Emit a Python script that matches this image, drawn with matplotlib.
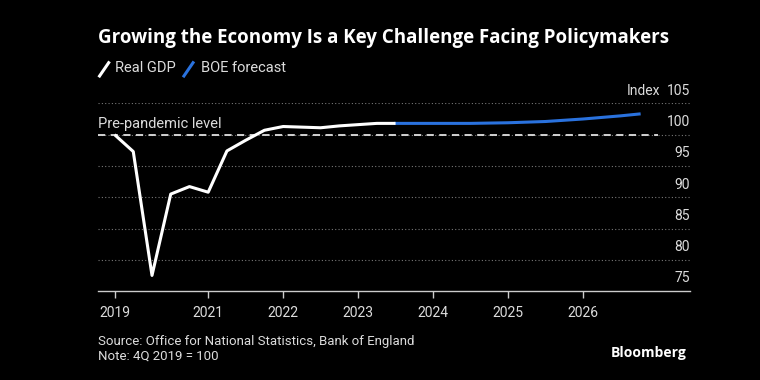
import matplotlib
matplotlib.use("Agg")
import matplotlib.pyplot as plt
from matplotlib.lines import Line2D

# quarterly data, x as fractional year (start of quarter)
gdp_x = [2019.75, 2020.0, 2020.25, 2020.5, 2020.75, 2021.0, 2021.25, 2021.5,
         2021.75, 2022.0, 2022.25, 2022.5, 2022.75, 2023.0, 2023.25, 2023.5]
gdp_y = [100.0, 97.3, 77.5, 90.5, 91.7, 90.8, 97.4, 99.1,
         100.7, 101.3, 101.2, 101.1, 101.4, 101.6, 101.8, 101.8]

boe_x = [2023.5, 2023.75, 2024.0, 2024.25, 2024.5, 2024.75, 2025.0,
         2025.25, 2025.5, 2025.75, 2026.0, 2026.25, 2026.5, 2026.75]
boe_y = [101.8, 101.8, 101.8, 101.8, 101.8, 101.85, 101.9,
         102.0, 102.1, 102.3, 102.5, 102.75, 103.0, 103.3]

xticks = [2019.75, 2021, 2022, 2023, 2024, 2025, 2026]
xtick_labels = ["2019", "2021", "2022", "2023", "2024", "2025", "2026"]
yticks = [75, 80, 85, 90, 95, 100, 105]

bg = "black"
txt = "#dcdcdc"
blue = "#2a72de"
font = "Roboto"

fig = plt.figure(figsize=(7.6, 3.8), dpi=100, facecolor=bg)
ax = fig.add_axes([0.129, 0.234, 0.779, 0.494], facecolor=bg)

# grid lines + labels sitting above them on the right
for v in yticks[1:]:
    ax.axhline(v, color="#777777", lw=0.8, ls=(0, (1, 2)), zorder=1)
for v in yticks:
    ax.text(1.0, v + 0.9, str(v), transform=ax.get_yaxis_transform(),
            ha="right", va="bottom", color=txt, fontsize=10, family=font)
ax.text(0.949, 105.9, "Index", transform=ax.get_yaxis_transform(),
        ha="right", va="bottom", color=txt, fontsize=10, family=font)

ax.hlines(100, 2019.53, 2027.0, colors="#e0e0e0", lw=1.3, linestyles=(0, (4, 3)), zorder=2)
ax.text(2019.53, 100.6, "Pre-pandemic level", color=txt, fontsize=10.5,
        family=font, va="bottom", ha="left")

ax.plot(gdp_x, gdp_y, color="white", lw=2.2, zorder=4, solid_capstyle="butt")
ax.plot(boe_x, boe_y, color=blue, lw=2.2, zorder=3)

ax.set_xlim(2019.53, 2027.43)
ax.set_ylim(75, 105)
ax.set_yticks([])
ax.set_xticks(xticks)
ax.set_xticklabels(xtick_labels, family=font, fontsize=10, color=txt)
ax.tick_params(axis="x", colors="#cccccc", length=5, width=1, pad=6, labelcolor=txt)
for s in ["top", "left", "right"]:
    ax.spines[s].set_visible(False)
ax.spines["bottom"].set_color("#cccccc")
ax.spines["bottom"].set_linewidth(1)

# title and legend
fig.text(0.129, 0.9, "Growing the Economy Is a Key Challenge Facing Policymakers",
         color="white", fontsize=13.5, fontweight="bold", family="Open Sans", va="center")
fig.add_artist(Line2D([0.131, 0.143], [0.8, 0.835], color="white", lw=2.2))
fig.text(0.151, 0.82, "Real GDP", color=txt, fontsize=10.5, family=font, va="center")
fig.add_artist(Line2D([0.242, 0.254], [0.8, 0.835], color=blue, lw=2.2))
fig.text(0.264, 0.82, "BOE forecast", color=txt, fontsize=10.5, family=font, va="center")

fig.text(0.129, 0.1, "Source: Office for National Statistics, Bank of England",
         color=txt, fontsize=9.5, family=font, va="center")
fig.text(0.129, 0.064, "Note: 4Q 2019 = 100", color=txt, fontsize=9.5, family=font, va="center")
fig.text(0.903, 0.07, "Bloomberg", color="white", fontsize=10, fontweight="bold",
         family="Open Sans", va="center", ha="right")

fig.savefig("out.png", dpi=100, facecolor=bg)
